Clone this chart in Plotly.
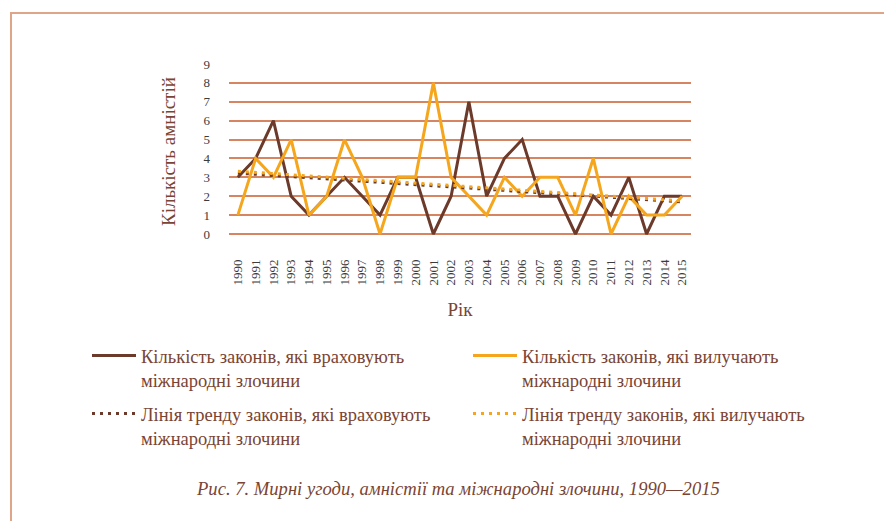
import numpy as np
import plotly.graph_objects as go

# data
years = [str(y) for y in range(1990, 2016)]
incl_crimes = [3, 4, 6, 2, 1, 2, 3, 2, 1, 3, 3, 0, 2, 7, 2, 4, 5, 2, 2, 0, 2, 1, 3, 0, 2, 2]
excl_crimes = [1, 4, 3, 5, 1, 2, 5, 3, 0, 3, 3, 8, 3, 2, 1, 3, 2, 3, 3, 1, 4, 0, 2, 1, 1, 2]
y_ticks = list(range(0, 10))

name_incl = "Кількість законів, які враховують<br>міжнародні злочини"
name_excl = "Кількість законів, які вилучають<br>міжнародні злочини"
name_trend_incl = "Лінія тренду законів, які враховують<br>міжнародні злочини"
name_trend_excl = "Лінія тренду законів, які вилучають<br>міжнародні злочини"
y_title = "Кількість амністій"
caption = "Рис. 7. Мирні угоди, амністії та міжнародні злочини, 1990—2015"

BROWN = "#6b3a2a"
GOLD = "#f5a61c"
GRID = "#d68560"
TEXT = "#7a4434"
TICK = "#3c3c3c"
FONT = "Liberation Serif"
DOTS = "3px,5px"

# the page body adds an 8px margin, so work in page pixels and shift
OFF = 8
W, H = 892 - OFF, 521 - OFF
ML, MT = 229 - OFF, 64 - OFF
MR = W - (691 - OFF)
MB = H - (236 - OFF)
PW, PH = W - ML - MR, H - MT - MB


def px_x(px):
    return (px - OFF - ML) / PW


def px_y(py):
    return (H - MB - (py - OFF)) / PH


def cx(px):
    return (px - OFF) / W


def cy(py):
    return 1 - (py - OFF) / H


# linear trend lines (like the Excel trendline), from the data
idx = np.arange(len(years))
trend_incl = np.polyval(np.polyfit(idx, incl_crimes, 1), idx)
trend_excl = np.polyval(np.polyfit(idx, excl_crimes, 1), idx)

fig = go.Figure()
fig.add_trace(go.Scatter(x=years, y=incl_crimes, mode="lines", name=name_incl,
                         line=dict(color=BROWN, width=3), legend="legend"))
fig.add_trace(go.Scatter(x=years, y=excl_crimes, mode="lines", name=name_excl,
                         line=dict(color=GOLD, width=3), legend="legend2"))
fig.add_trace(go.Scatter(x=years, y=trend_incl, mode="lines", name=name_trend_incl,
                         line=dict(color=BROWN, width=3, dash=DOTS), legend="legend3"))
fig.add_trace(go.Scatter(x=years, y=trend_excl, mode="lines", name=name_trend_excl,
                         line=dict(color=GOLD, width=3, dash=DOTS), legend="legend4"))

# one legend per entry so the 2x2 layout can be placed freely
legend_style = dict(
    orientation="v", xref="container", yref="container",
    xanchor="left", yanchor="top", itemwidth=44, valign="top",
    font=dict(family=FONT, size=18.5, color=TEXT),
    bgcolor="rgba(0,0,0,0)",
)

fig.update_layout(
    width=W, height=H,
    margin=dict(l=ML, r=MR, t=MT, b=MB, autoexpand=False),
    paper_bgcolor="white", plot_bgcolor="white",
    font=dict(family=FONT, color=TEXT),
    showlegend=True,
    legend=dict(legend_style, x=cx(87), y=cy(337)),
    legend2=dict(legend_style, x=cx(468), y=cy(337)),
    legend3=dict(legend_style, x=cx(87), y=cy(395)),
    legend4=dict(legend_style, x=cx(468), y=cy(395)),
    xaxis=dict(
        type="category", range=[-0.5, len(years) - 0.5],
        showgrid=False, zeroline=False, showline=False, ticks="",
        tickangle=-90, ticklabelstandoff=20,
        tickfont=dict(family=FONT, size=13, color=TICK),
        title=dict(text="Рік", font=dict(family=FONT, size=19, color=TEXT), standoff=18),
    ),
    yaxis=dict(
        range=[-(236 - 234) / 18.89, 9], tickvals=y_ticks,
        showgrid=True, gridcolor=GRID, gridwidth=1.5,
        zeroline=False, showline=False, ticks="",
        ticklabelstandoff=18,
        tickfont=dict(family=FONT, size=13, color=TICK),
    ),
    shapes=[
        dict(type="rect", xref="paper", yref="paper",
             x0=px_x(11), x1=px_x(905), y0=px_y(13), y1=px_y(535),
             line=dict(color="#dfa588", width=2), fillcolor="rgba(0,0,0,0)", layer="below"),
    ],
    annotations=[
        dict(text=y_title, xref="paper", yref="paper", x=px_x(168), y=px_y(152),
             xanchor="center", yanchor="middle", textangle=-90, showarrow=False,
             font=dict(family=FONT, size=19, color=TEXT)),
        dict(text=caption, xref="paper", yref="paper", x=px_x(458), y=px_y(488),
             xanchor="center", yanchor="middle", showarrow=False,
             font=dict(family=FONT, size=18.6, color=TEXT, style="italic")),
    ],
)

fig.write_html("out.html")
